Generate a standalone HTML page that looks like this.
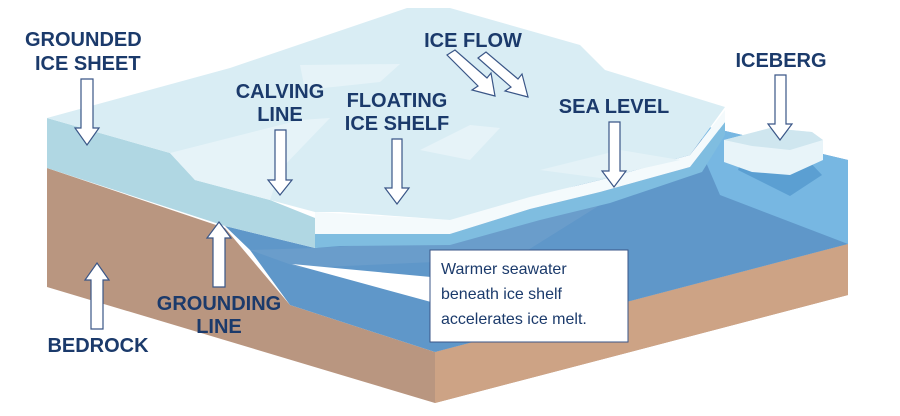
<!DOCTYPE html>
<html><head><meta charset="utf-8"><style>
html,body{margin:0;padding:0;background:#fff;width:900px;height:416px;overflow:hidden}
svg{display:block}
.l{font-family:"Liberation Sans",sans-serif;font-weight:bold;font-size:20px;fill:#1b3a6b}
.c{font-family:"Liberation Sans",sans-serif;font-size:16px;fill:#1b3a6b}
.a{fill:#fff;stroke:#3a5687;stroke-width:1.2}
</style></head><body>
<svg width="900" height="416" viewBox="0 0 900 416">
<!-- bedrock -->
<polygon points="47,168 225,228 290,305 435,352 848,244 848,295 435,403 47,287" fill="#b99680"/>
<polygon points="435,352 848,244 848,295 435,403" fill="#cda385"/>
<!-- water -->
<polygon points="225,226 315,248 450,225 690,150 700,125 848,160 848,244 435,352 290,305 250,250" fill="#5f97c9"/>
<polygon points="700,125 848,160 848,244 720,195 705,160" fill="#77b7e2"/>
<polygon points="250,250 315,248 450,240 600,205 520,255 435,262 300,268" fill="#6f9fcc" opacity="0.7"/>
<!-- iceberg -->
<polygon points="738,170 790,196 822,175 806,158 745,150" fill="#5b9fd2"/>
<polygon points="724,140 770,128 812,132 823,140 823,160 790,175 752,172 724,162" fill="#e8f4f9"/>
<polygon points="724,140 770,128 812,132 823,140 790,150 752,146" fill="#cfe6ef"/>
<!-- grounded ice front face -->
<polygon points="47,118 170,153 195,180 270,200 315,218 315,248 225,226 47,168" fill="#b0d7e3"/>
<!-- floating shelf front: underwater blue strip -->
<polygon points="315,232 450,234 530,209 600,192 690,167 725,122 725,135 702,172 610,203 540,220 450,245 340,246 315,248" fill="#7fbde0"/>
<!-- white face -->
<polygon points="315,212 450,220 530,197 600,180 690,155 725,110 725,122 690,167 600,192 530,209 450,234 315,234" fill="#f4fafc"/>
<!-- ice top -->
<polygon points="47,118 230,68 407,8 450,8 580,45 605,70 725,107 690,155 600,180 530,197 450,220 340,212 315,212 270,200 195,180 170,153" fill="#d9edf4"/>
<polygon points="170,153 300,120 330,118 280,170 270,200 195,180" fill="#e6f3f8"/>
<polygon points="300,65 400,64 380,82 305,90" fill="#e6f3f8"/>
<polygon points="420,150 470,125 500,128 470,160" fill="#e6f3f8"/>
<polygon points="540,170 620,150 680,160 600,178" fill="#e4f2f7"/>
<!-- ice flow arrows -->
<polygon class="a" points="447,55 455,50 487,78 491,73 495,96 472,90 478,86"/>
<polygon class="a" points="478,58 486,52 518,79 522,74 528,97 505,91 511,87"/>
<!-- labels -->
<text class="l" x="25" y="46">GROUNDED</text>
<text class="l" x="35" y="70">ICE SHEET</text>
<polygon class="a" points="81,79 93,79 93,128 99,128 87,145 75,128 81,128"/>
<text class="l" x="280" y="98" text-anchor="middle">CALVING</text>
<text class="l" x="280" y="121" text-anchor="middle">LINE</text>
<polygon class="a" points="275,130 286,130 286,180 292,180 280,195 268,180 275,180"/>
<text class="l" x="397" y="107" text-anchor="middle">FLOATING</text>
<text class="l" x="397" y="130" text-anchor="middle">ICE SHELF</text>
<polygon class="a" points="392,139 402,139 402,188 409,188 397,204 385,188 392,188"/>
<text class="l" x="473" y="47" text-anchor="middle">ICE FLOW</text>
<text class="l" x="781" y="67" text-anchor="middle">ICEBERG</text>
<polygon class="a" points="775,75 786,75 786,124 792,124 780,140 768,124 775,124"/>
<text class="l" x="614" y="113" text-anchor="middle">SEA LEVEL</text>
<polygon class="a" points="609,122 620,122 620,171 626,171 614,187 602,171 609,171"/>
<text class="l" x="219" y="310" text-anchor="middle">GROUNDING</text>
<text class="l" x="219" y="333" text-anchor="middle">LINE</text>
<polygon class="a" points="219,222 231,238 225,238 225,287 213,287 213,238 207,238"/>
<text class="l" x="98" y="352" text-anchor="middle">BEDROCK</text>
<polygon class="a" points="97,263 109,280 103,280 103,329 91,329 91,280 85,280"/>
<!-- callout -->
<polygon points="292,264 431,277 431,302" fill="#fff"/>
<rect x="430" y="250" width="198" height="92" fill="#fff" stroke="#3a5687" stroke-width="1"/>
<text class="c" x="441" y="274">Warmer seawater</text>
<text class="c" x="441" y="299">beneath ice shelf</text>
<text class="c" x="441" y="324">accelerates ice melt.</text>
</svg>
</body></html>
